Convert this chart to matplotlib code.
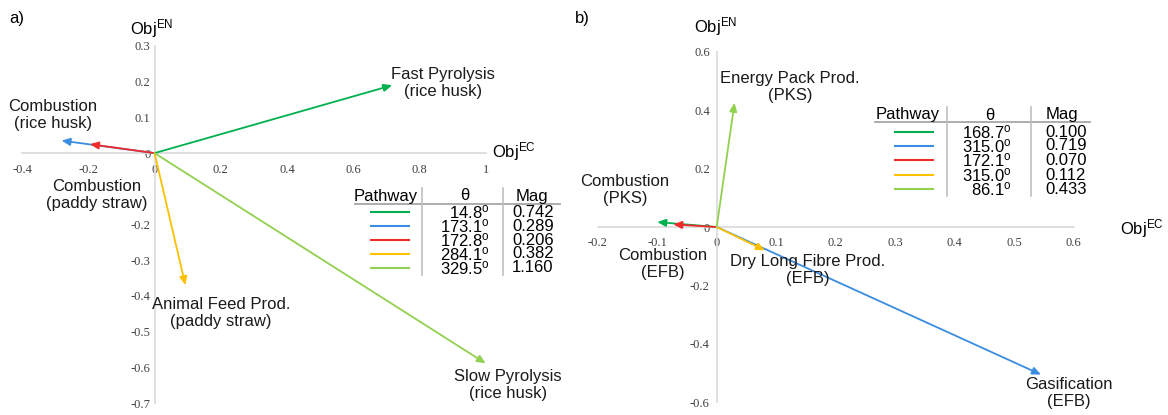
import matplotlib
matplotlib.use('Agg')
import matplotlib.pyplot as plt
from matplotlib.lines import Line2D
from matplotlib.ticker import FuncFormatter

plt.rcParams['font.family'] = ['Liberation Sans', 'DejaVu Sans']
plt.rcParams['mathtext.fontset'] = 'custom'
plt.rcParams['mathtext.rm'] = 'Liberation Sans'
plt.rcParams['mathtext.it'] = 'Liberation Sans:italic'
plt.rcParams['axes.unicode_minus'] = False

# ---------------- data ----------------
colors = ['#00B050', '#3A8DDE', '#F02B2B', '#FFC000', '#92D050']

# panel a)
a_theta = ['14.8', '173.1', '172.8', '284.1', '329.5']
a_mag = ['0.742', '0.289', '0.206', '0.382', '1.160']
a_end_x = [0.717, -0.281, -0.195, 0.093, 0.999]
a_end_y = [0.190, 0.035, 0.025, -0.370, -0.589]
a_xticks = [-0.4, -0.2, 0, 0.2, 0.4, 0.6, 0.8, 1]
a_yticks = [-0.7, -0.6, -0.5, -0.4, -0.3, -0.2, -0.1, 0, 0.1, 0.2, 0.3]
a_labels = ['Fast Pyrolysis\n(rice husk)', 'Combustion\n(rice husk)',
            'Combustion\n(paddy straw)', 'Animal Feed Prod.\n(paddy straw)',
            'Slow Pyrolysis\n(rice husk)']

# panel b)
b_theta = ['168.7', '315.0', '172.1', '315.0', '86.1']
b_mag = ['0.100', '0.719', '0.070', '0.112', '0.433']
b_end_x = [-0.100, 0.545, -0.073, 0.081, 0.030]
b_end_y = [0.017, -0.506, 0.009, -0.080, 0.426]
b_xticks = [-0.2, -0.1, 0, 0.1, 0.2, 0.3, 0.4, 0.5, 0.6]
b_yticks = [-0.6, -0.4, -0.2, 0, 0.2, 0.4, 0.6]
b_labels = ['Combustion\n(PKS)', 'Gasification\n(EFB)', 'Combustion\n(EFB)',
            'Dry Long Fibre Prod.\n(EFB)', 'Energy Pack Prod.\n(PKS)']

# ---------------- figure ----------------
W, H = 1168, 415
fig = plt.figure(figsize=(W / 100, H / 100), dpi=100)


def fx(x):
    return x / W


def fy(y):
    return 1 - y / H


def make_axes(l, r, t, b, xticks, yticks, xpad, ypad):
    ax = fig.add_axes([fx(l), fy(b), fx(r) - fx(l), fy(t) - fy(b)])
    ax.set_xlim(xticks[0], xticks[-1])
    ax.set_ylim(yticks[0], yticks[-1])
    for s in ['top', 'right']:
        ax.spines[s].set_visible(False)
    ax.spines['left'].set_position(('data', 0))
    ax.spines['bottom'].set_position(('data', 0))
    for s in ['left', 'bottom']:
        ax.spines[s].set_color('#d9d9d9')
        ax.spines[s].set_linewidth(1.2)
    ax.set_xticks(xticks)
    ax.set_yticks(yticks)
    fmt = FuncFormatter(lambda v, p: '{:g}'.format(round(v, 2)))
    ax.xaxis.set_major_formatter(fmt)
    ax.yaxis.set_major_formatter(fmt)
    ax.tick_params(axis='both', length=0, labelsize=9, labelcolor='#404040',
                   labelfontfamily='Liberation Serif')
    ax.tick_params(axis='x', pad=xpad)
    ax.tick_params(axis='y', pad=ypad)
    ax.patch.set_alpha(0)
    return ax


def draw_vectors(ax, xs, ys):
    for x, y, c in zip(xs, ys, colors):
        ax.annotate('', xy=(x, y), xytext=(0, 0),
                    arrowprops=dict(arrowstyle='-|>,head_length=0.5,head_width=0.22',
                                    color=c, lw=1.3, shrinkA=0, shrinkB=0,
                                    mutation_scale=10))


def draw_table(hy, cols, line_y, bars_x, bar_top, bar_bot, rows_y,
               sample_x, theta_right, mag_left, thetas, mags):
    fs = 12
    fig.text(fx(cols[0]), fy(hy), 'Pathway', ha='center', va='center', fontsize=fs)
    fig.text(fx(cols[1]), fy(hy), 'θ', ha='center', va='center', fontsize=fs)
    fig.text(fx(cols[2]), fy(hy), 'Mag', ha='center', va='center', fontsize=fs)
    fig.add_artist(Line2D([fx(line_y[0]), fx(line_y[1])], [fy(line_y[2])] * 2,
                          color='#a6a6a6', lw=1.3, transform=fig.transFigure))
    for bx in bars_x:
        fig.add_artist(Line2D([fx(bx)] * 2, [fy(bar_top), fy(bar_bot)],
                              color='#bfbfbf', lw=1.2, transform=fig.transFigure))
    for ry, c, th, mg in zip(rows_y, colors, thetas, mags):
        fig.add_artist(Line2D([fx(sample_x[0]), fx(sample_x[1])], [fy(ry)] * 2,
                              color=c, lw=1.5, transform=fig.transFigure))
        fig.text(fx(theta_right), fy(ry), th + r'$^{\mathrm{o}}$', ha='right',
                 va='center', fontsize=fs)
        fig.text(fx(mag_left), fy(ry), mg, ha='left', va='center', fontsize=fs)


def label(x, y, s, box=False):
    kw = {}
    if box:
        kw['bbox'] = dict(boxstyle='square,pad=0.05', fc='white', ec='none')
    fig.text(fx(x), fy(y), s, ha='center', va='center', fontsize=12,
             linespacing=1.15, color='#1a1a1a', **kw)


# ---- panel a ----
axa = make_axes(22, 486, 46, 403, a_xticks, a_yticks, xpad=8, ypad=3)
draw_vectors(axa, a_end_x, a_end_y)
fig.text(fx(17), fy(18), 'a)', ha='center', va='center', fontsize=12)
fig.text(fx(152), fy(29), r'Obj$^{\mathrm{EN}}$', ha='center', va='center', fontsize=12)
fig.text(fx(514), fy(152), r'Obj$^{\mathrm{EC}}$', ha='center', va='center', fontsize=12)
label(443, 83, a_labels[0])
label(53, 115, a_labels[1])
label(97, 195, a_labels[2], box=True)
label(221, 313, a_labels[3])
label(508, 385, a_labels[4])
draw_table(196, (386, 465, 532), (355, 560, 204), (422, 503), 188, 275,
           [212, 226, 240, 254, 268], (371, 409), 490, 512, a_theta, a_mag)

# ---- panel b ----
axb = make_axes(597.7, 1073.7, 52, 402, b_xticks, b_yticks, xpad=7, ypad=5)
draw_vectors(axb, b_end_x, b_end_y)
fig.text(fx(582), fy(18), 'b)', ha='center', va='center', fontsize=12)
fig.text(fx(716), fy(27), r'Obj$^{\mathrm{EN}}$', ha='center', va='center', fontsize=12)
fig.text(fx(1142), fy(229), r'Obj$^{\mathrm{EC}}$', ha='center', va='center', fontsize=12)
label(790, 87, b_labels[4])
label(625, 190, b_labels[0])
label(663, 264, b_labels[2], box=True)
label(808, 270, b_labels[3])
label(1069, 393, b_labels[1])
draw_table(115, (908, 990, 1062), (875, 1090, 122), (947, 1031), 107, 196,
           [132, 146, 160, 175, 189], (895, 933), 1012, 1045, b_theta, b_mag)

fig.savefig('out.png', dpi=100)
